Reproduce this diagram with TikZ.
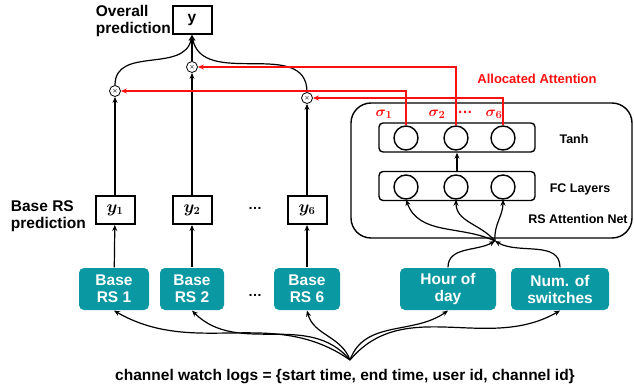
\documentclass[tikz,border=0pt]{standalone}
\usepackage{amsmath}
\usepackage{bm}
\usepackage{fontspec}
\setmainfont{Liberation Sans}
\usetikzlibrary{arrows.meta}

\definecolor{rsteal}{HTML}{0A98A3}
\definecolor{attred}{HTML}{FF1010}

\tikzset{
  rsbox/.style={fill=rsteal, rounded corners=5pt, text=white, align=center,
    font=\bfseries\fontsize{15.5}{17}\selectfont, minimum height=42pt, inner sep=0pt},
  predbox/.style={draw, line width=2pt, minimum width=39pt, minimum height=28pt, inner sep=0pt,
    font=\fontsize{16}{17}\selectfont},
  mult/.style={draw, circle, line width=0.8pt, minimum size=11pt, inner sep=0pt},
  neuron/.style={draw, circle, line width=1.4pt, minimum size=24pt, inner sep=0pt},
  layerbox/.style={draw, rounded corners=4pt, line width=1.4pt, minimum width=156pt, minimum height=29pt},
  biglbl/.style={font=\bfseries\fontsize{15.5}{17}\selectfont, align=left},
  smalllbl/.style={font=\bfseries\fontsize{12.5}{14}\selectfont},
  siglbl/.style={text=attred, font=\fontsize{15}{16}\selectfont},
}

\begin{document}
\begin{tikzpicture}[x=1pt, y=1pt, line width=1.2pt, >={Stealth[length=6pt, width=5pt]}]
  \useasboundingbox (0,0) rectangle (634,389);
  % overall prediction
  \node[predbox, font=\bfseries\fontsize{15.5}{16}\selectfont] (yall) at (192,369) {y};
  \node[biglbl, anchor=west] (overall) at (92,368) {Overall\\prediction};
  % multiply nodes
  \node[mult] (m1) at (115,298) {\tiny$\bm{\times}$};
  \node[mult] (m2) at (192,322) {\tiny$\bm{\times}$};
  \node[mult] (m3) at (307,291) {\tiny$\bm{\times}$};
  % base RS prediction
  \node[predbox] (y1) at (115,179) {$\bm{y}_{\bm{1}}$};
  \node[predbox] (y2) at (192,179) {$\bm{y}_{\bm{2}}$};
  \node[predbox] (y6) at (307,179) {$\bm{y}_{\bm{6}}$};
  \node (ydots) at (255,181) {\bfseries\fontsize{14}{15}\selectfont\dots};
  \node[biglbl, anchor=west] (baselbl) at (7,173) {Base RS\\prediction};
  % input boxes
  \node[rsbox, minimum width=70pt] (rs1) at (114,100) {Base\\RS 1};
  \node[rsbox, minimum width=64pt] (rs2) at (192,100) {Base\\RS 2};
  \node[rsbox, minimum width=66pt] (rs6) at (307,100) {Base\\RS 6};
  \node (rsdots) at (255,94) {\bfseries\fontsize{14}{15}\selectfont\dots};
  \node[rsbox, minimum width=96pt] (hour) at (448,100) {Hour of\\day};
  \node[rsbox, minimum width=98pt] (nsw) at (560,100) {Num. of\\switches};
  % attention net
  \draw[rounded corners=20pt, line width=1.4pt] (351,151) rectangle (632,286);
  \node[layerbox] (tanh) at (457,251.5) {};
  \node[layerbox] (fc) at (457,203) {};
  \foreach \i/\x in {1/406,2/456,6/503} {
    \node[neuron] (t\i) at (\x,251) {};
    \node[neuron] (f\i) at (\x,202) {};
  }
  \node[smalllbl] (tanhlbl) at (574,250) {Tanh};
  \node[smalllbl] (fclbl) at (580,200) {FC Layers};
  \node[smalllbl] (netlbl) at (578,170) {RS Attention Net};
  \node[siglbl] (s1) at (384,275) {$\bm{\sigma}_{\bm{1}}$};
  \node[siglbl] (s2) at (437,275) {$\bm{\sigma}_{\bm{2}}$};
  \node[siglbl] (sdots) at (465,277) {\bfseries\dots};
  \node[siglbl] (s6) at (494,275) {$\bm{\sigma}_{\bm{6}}$};
  \node[smalllbl, text=attred, font=\bfseries\fontsize{13}{14}\selectfont] (alloc) at (537,310) {Allocated Attention};
  \coordinate (junc) at (495,148);
  % logs
  \coordinate (src) at (350,29);
  \node[font=\bfseries\fontsize{15.5}{17}\selectfont] (logs) at (345,12)
    {channel watch logs = \{start time, end time, user id, channel id\}};
  % black connectors
  \foreach \i in {1,2,6} \draw[->] (rs\i) -- (y\i);
  \draw[->] (y1) -- (m1);
  \draw[->] (y2) -- (m2);
  \draw[->] (y6) -- (m3);
  \draw[->] (m2) -- (yall);
  \draw[->] (m1.north) to[out=90, in=-100, looseness=1.1] (yall.south);
  \draw[->] (m3.north) to[out=90, in=-80, looseness=1.1] (yall.south);
  \draw[->] (fc) -- (tanh);
  \draw[->] (hour.north) to[out=90, in=-150] (junc);
  \draw[->] (nsw.north) to[out=90, in=-30] (junc);
  \draw[->] (junc) to[out=155, in=-70] (f1.south);
  \draw[->] (junc) to[out=130, in=-90] (f2.south);
  \draw[->] (junc) to[out=95, in=-90] (f6.south);
  \draw[->] (src) to[out=145, in=-30] (rs1.south);
  \draw[->] (src) to[out=130, in=-45] (rs2.south);
  \draw[->] (src) to[out=110, in=-75] (rs6.south);
  \draw[->] (src) to[out=70, in=-145] (hour.south);
  \draw[->] (src) to[out=50, in=-150] (nsw.south);
  % red connectors
  \draw[->, attred] (t1.north) |- (m1.east);
  \draw[->, attred] (t2.north) |- (m2.east);
  \draw[->, attred] (t6.north) |- (m3.east);
\end{tikzpicture}
\end{document}
